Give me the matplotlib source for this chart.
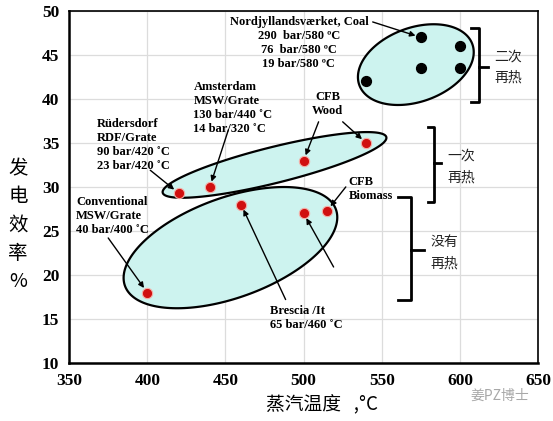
import numpy as np
import matplotlib.pyplot as plt
from matplotlib.patches import Polygon

plt.rcParams['font.family'] = ['Liberation Serif', 'DejaVu Serif']

# data
black_x = [575, 600, 575, 600, 540]
black_y = [47, 46, 43.5, 43.5, 42]
red_x = [420, 440, 500, 540, 400, 460, 500, 515]
red_y = [29.3, 30, 33, 35, 18, 28, 27, 27.3]
x_ticks = [350, 400, 450, 500, 550, 600, 650]
y_ticks = [10, 15, 20, 25, 30, 35, 40, 45, 50]

# ellipses: centre (data), semi axes in pixels, tilt deg
ell_cx = [571.8, 481.4, 453.2]
ell_cy = [43.9, 32.5, 23.1]
ell_a = [60, 115, 112]
ell_b = [37, 18, 50]
ell_ang = [20, 14, 20]

labels = ['Nordjyllandsværket, Coal\n290  bar/580 ºC\n76  bar/580 ºC\n19 bar/580 ºC',
          'Amsterdam\nMSW/Grate\n130 bar/440 ˚C\n14 bar/320 ˚C',
          'Rüdersdorf\nRDF/Grate\n90 bar/420 ˚C\n23 bar/420 ˚C',
          'CFB\nWood',
          'CFB\nBiomass',
          'Conventional\nMSW/Grate\n40 bar/400 ˚C',
          'Brescia /It\n65 bar/460 ˚C']
lab_x = [497, 429.5, 368, 515.4, 528.8, 354.5, 478.8]
lab_y = [49.4, 42.0, 37.8, 40.9, 31.2, 29.0, 16.6]
lab_ha = ['center', 'left', 'left', 'center', 'left', 'left', 'left']

arrows = [((544.2, 48.75), (575, 47)),
          ((451.9, 36.5), (440, 30)),
          ((401.9, 31.9), (420, 29.3)),
          ((509.6, 37.4), (500, 33)),
          ((525, 37.4), (540, 35)),
          ((527, 30.0), (515, 27.3)),
          ((375, 24.2), (400, 18)),
          ((488.5, 17.2), (460, 28)),
          ((519.2, 20.9), (500, 27))]

# brackets: x_start, x_vert, x_tick, y_top, y_bot, y_mid
brackets = [(607, 612.2, 618, 48.1, 39.7, 43.6),
            (579.5, 583.3, 587.8, 36.8, 28.3, 32.7),
            (560.3, 568.6, 576.9, 28.9, 17.2, 22.8)]
br_text = [('二次', '再热'), ('一次', '再热'), ('没有', '再热')]
br_tx = [621.8, 591.7, 581.4]
br_ty = [(44.8, 42.4), (33.6, 31.1), (23.75, 21.25)]

fig = plt.figure(figsize=(5.53, 4.21), dpi=100)
ax = fig.add_axes([0.125, 0.138, 0.848, 0.836])
ax.set_xlim(350, 650)
ax.set_ylim(10, 50)
ax.set_xticks(x_ticks)
ax.set_yticks(y_ticks)
ax.grid(True, color='#dcdcdc', lw=0.9, zorder=0)
ax.set_axisbelow(True)
for lab in ax.get_xticklabels() + ax.get_yticklabels():
    lab.set_fontweight('bold')
    lab.set_fontsize(12.5)
ax.tick_params(length=0, pad=7)
for s in ['left', 'bottom']:
    ax.spines[s].set_linewidth(1.8)
for s in ['top', 'right']:
    ax.spines[s].set_linewidth(1.2)

# pixel scale (px per data unit)
sx = 1.56
sy = 8.8
t = np.linspace(0, 2 * np.pi, 200)
for cx, cy, a, b, ang in zip(ell_cx, ell_cy, ell_a, ell_b, ell_ang):
    th = np.radians(ang)
    px = a * np.cos(t) * np.cos(th) - b * np.sin(t) * np.sin(th)
    py = a * np.cos(t) * np.sin(th) + b * np.sin(t) * np.cos(th)
    pts = np.column_stack([cx + px / sx, cy + py / sy])
    ax.add_patch(Polygon(pts, closed=True, facecolor='#cdf3ef', edgecolor='black', lw=1.6, zorder=2))

ax.scatter(black_x, black_y, s=50, color='black', zorder=4)
ax.scatter(red_x, red_y, s=55, color='#d01010', edgecolors='#f3b0a8', linewidths=0.8, zorder=4)

for txt, x, y, ha in zip(labels, lab_x, lab_y, lab_ha):
    ax.text(x, y, txt, ha=ha, va='top', fontsize=9, fontweight='bold', linespacing=1.22, zorder=5)

for (x0, y0), (x1, y1) in arrows:
    ax.annotate('', xy=(x1, y1), xytext=(x0, y0),
                arrowprops=dict(arrowstyle='-|>', color='black', lw=1.0, mutation_scale=8, shrinkA=0, shrinkB=4),
                zorder=5)

for (xs, xv, xt, yt, yb, ym), (t1, t2), tx, (ty1, ty2) in zip(brackets, br_text, br_tx, br_ty):
    ax.plot([xs, xv, xv, xs], [yt, yt, yb, yb], color='black', lw=2.0, clip_on=False, zorder=5,
            solid_joinstyle='round')
    ax.plot([xv, xt], [ym, ym], color='black', lw=2.0, clip_on=False, zorder=5)
    ax.text(tx, ty1, t1, ha='left', va='center', fontsize=10, family=['Noto Sans CJK SC'], color='#222222')
    ax.text(tx, ty2, t2, ha='left', va='center', fontsize=10, family=['Noto Sans CJK SC'], color='#222222')

fig.text(18 / 553, 1 - 225 / 421, '发\n电\n效\n率\n%', ha='center', va='center', fontsize=14,
         family=['Noto Sans CJK SC', 'DejaVu Sans'], linespacing=1.45)
fig.text(322 / 553, 1 - 405 / 421, '蒸汽温度   ,°C', ha='center', va='center', fontsize=13.5,
         family=['Noto Sans CJK SC', 'DejaVu Sans'])
fig.text(500 / 553, 1 - 396 / 421, '姜PZ博士', ha='center', va='center', fontsize=10,
         family=['Noto Sans CJK SC', 'DejaVu Sans'], color='#a8a8a8')

fig.savefig('out.png', dpi=100)
